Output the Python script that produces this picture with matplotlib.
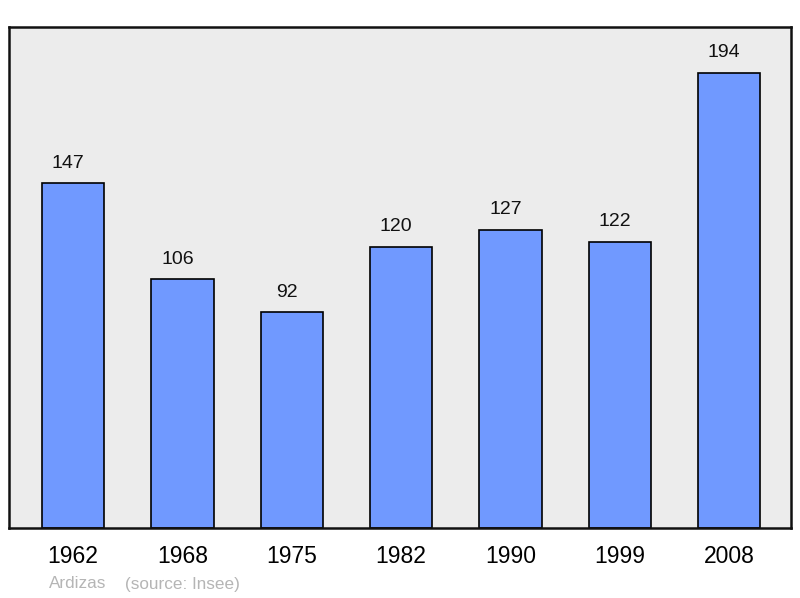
import matplotlib.pyplot as plt
import numpy as np

years = ['1962', '1968', '1975', '1982', '1990', '1999', '2008']
population = [147, 106, 92, 120, 127, 122, 194]

plt.rcParams['font.family'] = ['Liberation Sans', 'DejaVu Sans']

fig = plt.figure(figsize=(8, 5.98), dpi=100)
ax = fig.add_axes([9/800, 1 - 528/598, 782/800, 501/598])
ax.set_facecolor('#ececec')

x = np.arange(len(years))
ax.bar(x, population, width=0.57, color='#7099ff', edgecolor='black', linewidth=1.2, zorder=2)

# value labels sit a bit left of the bar centre, like the original
for xi, v in zip(x, population):
    ax.annotate(str(v), (xi, v), xytext=(-3.6, 14.5), textcoords='offset points',
                ha='center', va='center', fontsize=14, color='#111111')

ax.set_xlim(-0.585, 6.565)
ax.set_ylim(0, 213.6)
ax.set_yticks([])
ax.set_xticks(x)
ax.set_xticklabels(years, fontsize=16.5)
ax.tick_params(axis='x', length=0, pad=12.5)
for s in ax.spines.values():
    s.set_linewidth(1.8)
    s.set_color('#111111')

fig.text(49/800, 1 - 584/598, 'Ardizas', fontsize=12.3, color='#b5b5b5', va='center')
fig.text(125/800, 1 - 584/598, '(source: Insee)', fontsize=12.3, color='#b5b5b5', va='center')

fig.savefig('out.png', dpi=100)
